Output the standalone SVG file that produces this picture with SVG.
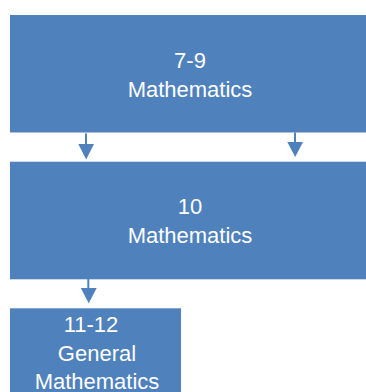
<svg xmlns="http://www.w3.org/2000/svg" width="366" height="392" viewBox="0 0 366 392">
<style>
.box{fill:#4F81BD}
.lbl{font-family:"Liberation Sans",Arial,sans-serif;font-size:22px;fill:#FFFFFF;text-anchor:middle}
.conn{stroke:#4F81BD;stroke-width:2;fill:none}
.head{fill:#4F81BD}
</style>
<rect width="366" height="392" fill="#FFFFFF"/>
<g id="node-7-9">
<rect class="box" x="10" y="15" width="360" height="117.5"/>
<text class="lbl" x="190" y="68">7-9</text>
<text class="lbl" x="190" y="97">Mathematics</text>
</g>
<g id="node-10">
<rect class="box" x="10" y="161.7" width="360" height="117.6"/>
<text class="lbl" x="190" y="214">10</text>
<text class="lbl" x="190" y="243">Mathematics</text>
</g>
<g id="node-11-12">
<rect class="box" x="10" y="308.3" width="171" height="84"/>
<text class="lbl" x="91" y="331.5">11-12</text>
<text class="lbl" x="97" y="360.5">General</text>
<text class="lbl" x="97" y="389">Mathematics</text>
</g>
<g id="connectors">
<line class="conn" x1="86" y1="133.5" x2="86" y2="145"/>
<polygon class="head" points="78.3,144 94,144 86.2,159.5"/>
<line class="conn" x1="295" y1="132.5" x2="295" y2="143"/>
<polygon class="head" points="287.3,142 303,142 295.2,157"/>
<line class="conn" x1="88.3" y1="279" x2="88.3" y2="289"/>
<polygon class="head" points="80.8,288 96.7,288 88.7,303.3"/>
</g>
</svg>
